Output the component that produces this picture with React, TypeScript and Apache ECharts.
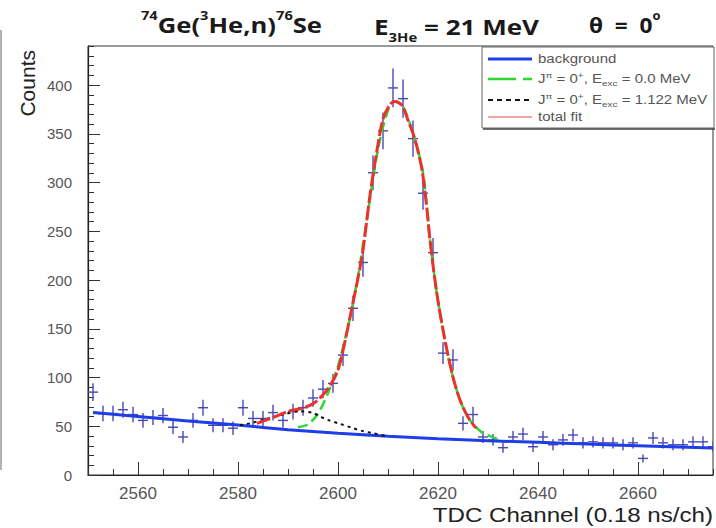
import React, { useEffect, useRef } from "react";
import * as echarts from "echarts";

// TDC spectrum, 2-channel bins (centres)
const binCenters = [
  2551, 2553, 2555, 2557, 2559, 2561, 2563, 2565, 2567, 2569,
  2571, 2573, 2575, 2577, 2579, 2581, 2583, 2585, 2587, 2589,
  2591, 2593, 2595, 2597, 2599, 2601, 2603, 2605, 2607, 2609,
  2611, 2613, 2615, 2617, 2619, 2621, 2623, 2625, 2627, 2629,
  2631, 2633, 2635, 2637, 2639, 2641, 2643, 2645, 2647, 2649,
  2651, 2653, 2655, 2657, 2659, 2661, 2663, 2665, 2667, 2669,
  2671, 2673, 2675,
];
const counts = [
  85, 63, 63, 67, 62, 56, 59, 61, 49, 39,
  56, 69, 51, 51, 48, 69, 58, 58, 64, 56,
  65, 69, 79, 88, 94, 123, 171, 218, 310, 353,
  397, 386, 345, 289, 228, 125, 118, 53, 62, 39,
  36, 28, 39, 42, 29, 39, 31, 36, 41, 33,
  34, 33, 33, 31, 33, 17, 38, 33, 31, 31,
  34, 34, 29,
];
const BIN_WIDTH = 2;

// fit curves, sampled [channel, counts]
const backgroundFit: [number, number][] = [
  [2551, 64], [2560, 60], [2570, 55.5], [2580, 51.2], [2590, 46.5],
  [2600, 42.8], [2610, 39.8], [2620, 37.3], [2630, 35.2], [2640, 33.5],
  [2650, 31.7], [2660, 30], [2675, 27.6],
];
const groundStateFit: [number, number][] = [
  [2592, 49], [2594, 52], [2596, 63], [2598, 84], [2600, 112],
  [2602, 152], [2604, 204], [2606, 270], [2608, 334], [2610, 374],
  [2611.4, 383], [2613, 378], [2615, 350], [2617, 310], [2618.4, 241],
  [2619.8, 185], [2621.4, 138], [2623, 100], [2624.4, 77], [2626, 59],
  [2627.6, 49], [2629, 43], [2632.4, 36],
];
const excitedStateFit: [number, number][] = [
  [2580.4, 51], [2582.4, 53], [2586, 58], [2589, 62], [2592.4, 65.5],
  [2595, 63.6], [2596.4, 60], [2598, 56.5], [2600.4, 52.5], [2603, 48],
  [2605, 45], [2607, 42.8], [2609.4, 40.2],
];
const totalFit: [number, number][] = [
  [2583.8, 53], [2586, 57], [2588.4, 62], [2590.5, 66], [2592.4, 68],
  [2595, 73], [2597.8, 87], [2599.8, 105], [2600.8, 123], [2602.8, 172],
  [2604.8, 224], [2606.4, 287], [2607.8, 333], [2609, 365], [2610.4, 380],
  [2611.4, 383], [2612.8, 379], [2614, 364], [2615.4, 344], [2616.8, 313],
  [2617.8, 272], [2618.4, 241], [2619.8, 185], [2621.4, 138], [2623, 100.5],
  [2624.4, 77], [2626, 59.5], [2627.6, 48],
];

const xRange = [2550, 2675];
const yRange = [0, 440];
const xMajorTicks = [2560, 2580, 2600, 2620, 2640, 2660];
const yMajorTicks = [0, 50, 100, 150, 200, 250, 300, 350, 400];

const TICK_FONT = "'Liberation Sans', Arial, sans-serif";
const TITLE_FONT = "'Open Sans', 'Liberation Sans', sans-serif";

export default function App() {
  const ref = useRef<HTMLDivElement>(null);

  useEffect(() => {
    if (!ref.current) return;
    const chart = echarts.init(ref.current, undefined, { renderer: "svg" });

    const pointData = binCenters.map((c, i) => [c, counts[i]]);

    const titleB = { fontFamily: TITLE_FONT, fontWeight: "bold", fontSize: 21, lineHeight: 30, fill: "#1a1a1a" };
    const titleSup = { fontFamily: TITLE_FONT, fontWeight: "bold", fontSize: 12, lineHeight: 12, verticalAlign: "top", fill: "#1a1a1a" };
    const titleSub = { fontFamily: TITLE_FONT, fontWeight: "bold", fontSize: 12, lineHeight: 12, verticalAlign: "bottom", fill: "#1a1a1a" };

    const legN = { fontFamily: TICK_FONT, fontSize: 12, lineHeight: 16, fill: "#555" };
    const legSup = { fontFamily: TICK_FONT, fontSize: 8, lineHeight: 8, verticalAlign: "top", fill: "#555" };
    const legSub = { fontFamily: TICK_FONT, fontSize: 8, lineHeight: 8, verticalAlign: "bottom", fill: "#555" };
    const legRich = { n: legN, sup: legSup, sub: legSub };

    const legendX1 = 488;
    const legendX2 = 532;
    const legendTextX = 538;
    const legendStretch = 1.25;

    chart.setOption({
      animation: false,
      backgroundColor: "#ffffff",
      grid: {
        left: 88,
        right: 3,
        top: 46,
        bottom: 53,
        show: true,
        borderColor: "#333",
        borderWidth: 1,
        backgroundColor: "transparent",
      },
      xAxis: [
        {
          type: "value",
          min: xRange[0],
          max: xRange[1],
          interval: 5,
          position: "bottom",
          axisLine: { show: true, lineStyle: { color: "#222", width: 1.2 } },
          axisTick: { show: true, inside: true, length: 6, lineStyle: { color: "#333" } },
          axisLabel: { show: false },
          splitLine: { show: false },
        },
        {
          type: "value",
          min: xRange[0],
          max: xRange[1],
          position: "bottom",
          axisLine: { show: false },
          axisTick: { show: true, inside: true, length: 13, customValues: xMajorTicks, lineStyle: { color: "#333" } },
          axisLabel: {
            show: true,
            customValues: xMajorTicks,
            formatter: (v: number) => String(v),
            margin: 10,
            fontFamily: TICK_FONT,
            fontSize: 17,
            color: "#555",
          },
          splitLine: { show: false },
        },
      ],
      yAxis: [
        {
          type: "value",
          min: yRange[0],
          max: yRange[1],
          interval: 10,
          position: "left",
          axisLine: { show: true, lineStyle: { color: "#222", width: 1.2 } },
          axisTick: { show: true, inside: true, length: 6, lineStyle: { color: "#333" } },
          axisLabel: { show: false },
          splitLine: { show: false },
        },
        {
          type: "value",
          min: yRange[0],
          max: yRange[1],
          position: "left",
          axisLine: { show: false },
          axisTick: { show: true, inside: true, length: 12, customValues: yMajorTicks, lineStyle: { color: "#333" } },
          axisLabel: {
            show: true,
            customValues: yMajorTicks,
            formatter: (v: number) => String(v),
            margin: 16,
            fontFamily: TICK_FONT,
            fontSize: 15,
            color: "#555",
          },
          splitLine: { show: false },
        },
      ],
      series: [
        {
          name: "data",
          type: "custom",
          xAxisIndex: 0,
          yAxisIndex: 0,
          clip: true,
          z: 2,
          data: pointData,
          encode: { x: 0, y: 1 },
          renderItem: (_params: any, api: any) => {
            const x = api.value(0);
            const y = api.value(1);
            const err = Math.sqrt(y);
            const top = api.coord([x, y + err]);
            const bot = api.coord([x, Math.max(y - err, 0)]);
            const left = api.coord([x - BIN_WIDTH / 2, y]);
            const right = api.coord([x + BIN_WIDTH / 2, y]);
            const style = { stroke: "#4848b4", lineWidth: 1.4 };
            return {
              type: "group",
              children: [
                { type: "line", shape: { x1: top[0], y1: top[1], x2: bot[0], y2: bot[1] }, style },
                { type: "line", shape: { x1: left[0], y1: left[1], x2: right[0], y2: right[1] }, style },
              ],
            };
          },
        },
        {
          name: "background",
          type: "line",
          data: backgroundFit,
          showSymbol: false,
          symbol: "none",
          smooth: 0.3,
          z: 3,
          lineStyle: { color: "#1f3de8", width: 3 },
        },
        {
          name: "0.0 MeV",
          type: "line",
          data: groundStateFit,
          showSymbol: false,
          symbol: "none",
          smooth: 0.3,
          z: 4,
          lineStyle: { color: "#2fd62f", width: 2.5, type: [10, 5] },
        },
        {
          name: "1.122 MeV",
          type: "line",
          data: excitedStateFit,
          showSymbol: false,
          symbol: "none",
          smooth: 0.3,
          z: 5,
          lineStyle: { color: "#111", width: 2, type: [3, 4] },
        },
        {
          name: "total fit",
          type: "line",
          data: totalFit,
          showSymbol: false,
          symbol: "none",
          smooth: 0.3,
          z: 6,
          lineStyle: { color: "#e8322a", width: 3, type: [14, 3] },
        },
      ],
      graphic: [
        // thin border at the left edge of the figure
        { type: "line", shape: { x1: 1, y1: 30, x2: 1, y2: 470 }, style: { stroke: "#999", lineWidth: 1.5 } },
        // title
        {
          type: "text",
          x: 141,
          y: 25,
          scaleX: 1.22,
          style: {
            text: "{s|74}{b|Ge(}{s|3}{b|He,n)}{s|76}{b|Se}",
            verticalAlign: "middle",
            rich: { b: titleB, s: titleSup },
          },
        },
        {
          type: "text",
          x: 374,
          y: 27,
          scaleX: 1.24,
          style: {
            text: "{b|E}{u|3He}{b| = 21 MeV}",
            verticalAlign: "middle",
            rich: { b: { ...titleB, lineHeight: 34 }, u: titleSub },
          },
        },
        {
          type: "text",
          x: 589,
          y: 25,
          scaleX: 1.08,
          style: {
            text: "{b|θ  =  0}{s|o}",
            verticalAlign: "middle",
            rich: { b: titleB, s: titleSup },
          },
        },
        // axis titles
        {
          type: "text",
          x: 27,
          y: 50,
          rotation: Math.PI / 2,
          style: {
            text: "Counts",
            fontFamily: TICK_FONT,
            fontSize: 21,
            fill: "#222",
            align: "right",
            verticalAlign: "middle",
          },
        },
        {
          type: "text",
          x: 713,
          y: 515,
          scaleX: 1.15,
          style: {
            text: "TDC Channel (0.18 ns/ch)",
            fontFamily: TICK_FONT,
            fontSize: 21,
            fill: "#222",
            align: "right",
            verticalAlign: "middle",
          },
        },
        // legend box
        {
          type: "rect",
          z: 10,
          shape: { x: 482, y: 47, width: 232, height: 81 },
          style: { fill: "#fff", stroke: "#666", lineWidth: 1 },
        },
        { type: "line", z: 10, shape: { x1: 483, y1: 129, x2: 715, y2: 129 }, style: { stroke: "#444", lineWidth: 1.5 } },
        { type: "line", z: 11, shape: { x1: legendX1, y1: 59, x2: legendX2, y2: 59 }, style: { stroke: "#1f3de8", lineWidth: 3 } },
        { type: "line", z: 11, shape: { x1: legendX1, y1: 79, x2: legendX2, y2: 79 }, style: { stroke: "#2fd62f", lineWidth: 2.5, lineDash: [28, 7] } },
        { type: "line", z: 11, shape: { x1: legendX1, y1: 100, x2: legendX2, y2: 100 }, style: { stroke: "#111", lineWidth: 2, lineDash: [5, 4] } },
        { type: "line", z: 11, shape: { x1: legendX1, y1: 117, x2: legendX2, y2: 117 }, style: { stroke: "#f4a3a3", lineWidth: 2 } },
        {
          type: "text", z: 11, x: legendTextX, y: 59, scaleX: legendStretch,
          style: { text: "{n|background}", verticalAlign: "middle", rich: legRich },
        },
        {
          type: "text", z: 11, x: legendTextX, y: 79, scaleX: legendStretch,
          style: { text: "{n|J}{sup|π}{n| = 0}{sup|+}{n|, E}{sub|exc}{n| = 0.0 MeV}", verticalAlign: "middle", rich: legRich },
        },
        {
          type: "text", z: 11, x: legendTextX, y: 100, scaleX: legendStretch,
          style: { text: "{n|J}{sup|π}{n| = 0}{sup|+}{n|, E}{sub|exc}{n| = 1.122 MeV}", verticalAlign: "middle", rich: legRich },
        },
        {
          type: "text", z: 11, x: legendTextX, y: 117, scaleX: legendStretch,
          style: { text: "{n|total fit}", verticalAlign: "middle", rich: legRich },
        },
      ],
    });

    return () => chart.dispose();
  }, []);

  return <div ref={ref} style={{ width: 716, height: 528, position: "absolute", left: 0, top: 0 }} />;
}
